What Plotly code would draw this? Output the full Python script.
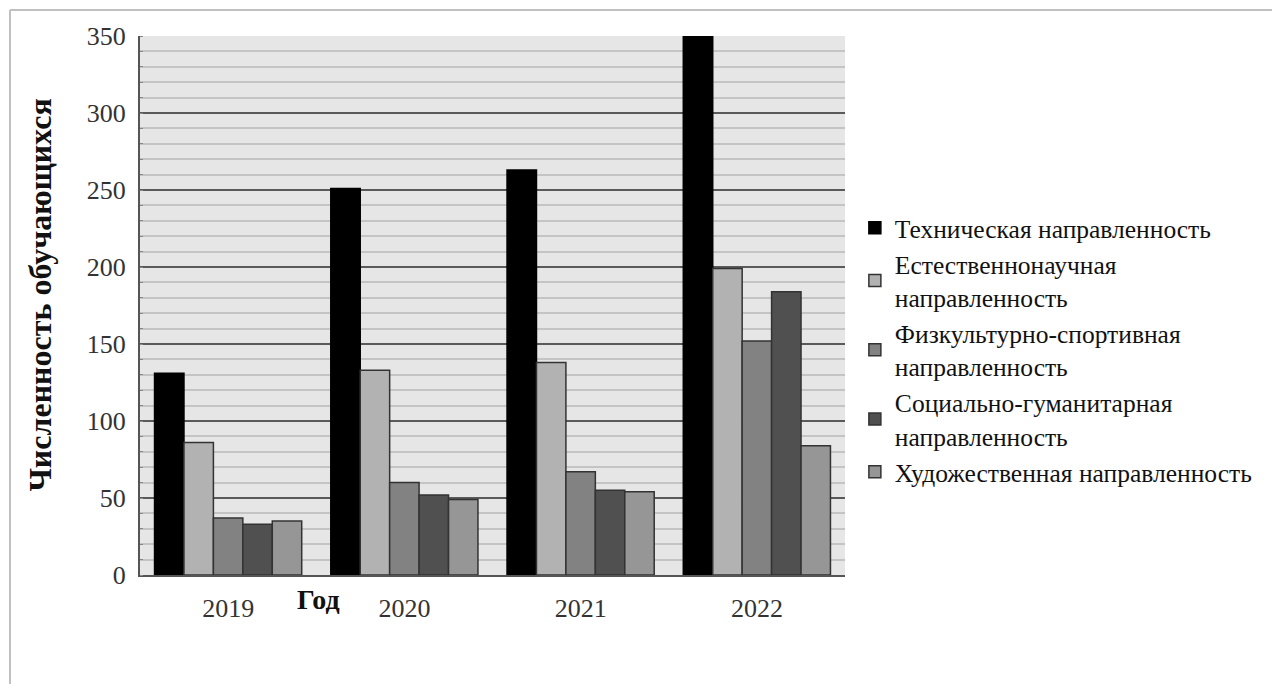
import plotly.graph_objects as go

years = ["2019", "2020", "2021", "2022"]
series_names = [
    "Техническая направленность",
    "Естественнонаучная<br>направленность",
    "Физкультурно-спортивная<br>направленность",
    "Социально-гуманитарная<br>направленность",
    "Художественная направленность",
]
technical = [131, 251, 263, 350]
natural_science = [86, 133, 138, 199]
sports = [37, 60, 67, 152]
social = [33, 52, 55, 184]
arts = [35, 49, 54, 84]
y_ticks = [0, 50, 100, 150, 200, 250, 300, 350]

values = [technical, natural_science, sports, social, arts]
colors = ["#000000", "#b2b2b2", "#828282", "#505050", "#969696"]
outlines = ["#000000", "#333333", "#333333", "#333333", "#333333"]

SERIF = "'Liberation Serif', 'Times New Roman', serif"

fig = go.Figure()
for name, vals, col, oc in zip(series_names, values, colors, outlines):
    fig.add_trace(go.Bar(
        x=years, y=vals, name=name,
        marker=dict(color=col, line=dict(color=oc, width=1.5)),
    ))

fig.update_layout(
    width=1272, height=684,
    margin=dict(l=140, r=427, t=36, b=109),
    paper_bgcolor="white",
    plot_bgcolor="#e6e6e6",
    barmode="group",
    bargap=0.165,
    bargroupgap=0,
    font=dict(family=SERIF, size=25, color="#222222"),
    legend=dict(
        x=1.014, y=0.687, xanchor="left", yanchor="top",
        font=dict(family=SERIF, size=25.5, color="#111111"),
        bgcolor="rgba(0,0,0,0)",
        tracegroupgap=0,
        itemwidth=30,
    ),
    xaxis=dict(
        showgrid=False, showline=True, linecolor="#555555", linewidth=2,
        tickfont=dict(family=SERIF, size=26, color="#333333"),
        ticks="", ticklabelstandoff=9,
    ),
    yaxis=dict(
        range=[0, 350], tickvals=y_ticks,
        showgrid=True, gridcolor="#5a5a5a", gridwidth=2,
        showline=True, linecolor="#555555", linewidth=2,
        tickfont=dict(family=SERIF, size=26, color="#333333"),
        ticks="", ticklabelstandoff=7,
        zeroline=False,
        minor=dict(dtick=10, showgrid=True, gridcolor="#c4c4c4", gridwidth=2,
                   ticks="inside", ticklen=3, tickcolor="#888888"),
    ),
    showlegend=True,
)

# Axis titles
fig.add_annotation(
    text="<b>Численность обучающихся</b>", textangle=-90,
    xref="paper", yref="paper", x=-0.142, y=0.52,
    xanchor="center", yanchor="middle",
    showarrow=False, font=dict(family=SERIF, size=32, color="#111111"),
)
fig.add_annotation(
    text="<b>Год</b>",
    xref="paper", yref="paper", x=0.2525, y=-0.046,
    xanchor="center", yanchor="middle",
    showarrow=False, font=dict(family=SERIF, size=28, color="#111111"),
)

# Outer frame (left and top edges)
fig.add_shape(type="line", xref="paper", yref="paper",
              x0=-0.1844, x1=-0.1844, y0=-0.21, y1=1.0482,
              line=dict(color="#c0c0c0", width=2))
fig.add_shape(type="line", xref="paper", yref="paper",
              x0=-0.1844, x1=1.62, y0=1.0482, y1=1.0482,
              line=dict(color="#c0c0c0", width=2))

fig.write_html("out.html")
